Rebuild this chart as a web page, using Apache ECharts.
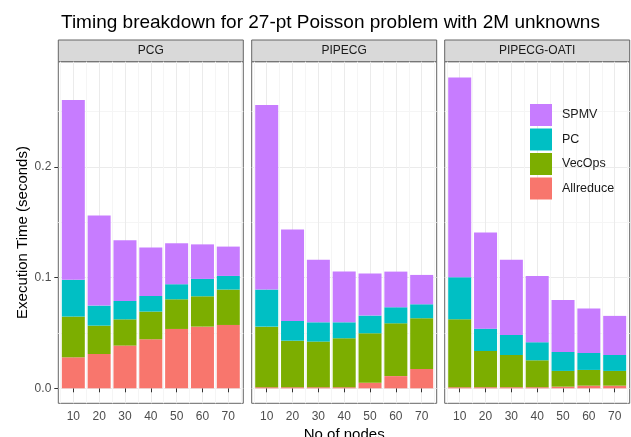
<!DOCTYPE html>
<html>
<head>
<meta charset="utf-8">
<script src="https://cdn.jsdelivr.net/npm/echarts@6/dist/echarts.min.js"></script>
<style>
  html, body { margin: 0; padding: 0; background: #fff; }
  #chart { width: 631px; height: 437px; }
</style>
</head>
<body>
<div id="chart"></div>
<script>
var FONT = '"Liberation Sans", Arial, sans-serif';

var panels = ['PCG', 'PIPECG', 'PIPECG-OATI'];
var nodes = ['10', '20', '30', '40', '50', '60', '70'];
var xMajor = [10, 20, 30, 40, 50, 60, 70];
var yTicks = [0, 0.1, 0.2];
var yMinor = [0.05, 0.15, 0.25];

// segment heights per panel (seconds)
var allreduce = [
  [0.028, 0.031, 0.0386, 0.0443, 0.0536, 0.0557, 0.0572],
  [0.001, 0.001, 0.001, 0.001, 0.005, 0.011, 0.0175],
  [0.001, 0.001, 0.001, 0.001, 0.0015, 0.0024, 0.0024]
];
var vecops = [
  [0.0368, 0.0256, 0.0237, 0.025, 0.0268, 0.0274, 0.032],
  [0.0547, 0.042, 0.0412, 0.0442, 0.0447, 0.0477, 0.0458],
  [0.0613, 0.0327, 0.0291, 0.0243, 0.0142, 0.0142, 0.0133]
];
var pc = [
  [0.0332, 0.0181, 0.0166, 0.0141, 0.0136, 0.0157, 0.0123],
  [0.0335, 0.0178, 0.0174, 0.0144, 0.016, 0.0145, 0.0126],
  [0.038, 0.0202, 0.0181, 0.0163, 0.0171, 0.0153, 0.0144]
];
var spmv = [
  [0.1625, 0.0813, 0.0548, 0.0437, 0.037, 0.0312, 0.0265],
  [0.1668, 0.0826, 0.0564, 0.0458, 0.0379, 0.0322, 0.0265],
  [0.1804, 0.0868, 0.0678, 0.0599, 0.047, 0.0401, 0.0353]
];

var chart = echarts.init(document.getElementById('chart'));

var panelLeft = [58.3, 251.7, 444.7];
var panelW = 185;
var innerInset = 2.1;
var innerW = 180.8;
var panelTop = 61.7;
var panelH = 341.6;
var stripTop = 40;
var yMin = -0.01355, yMax = 0.295;

var grids = [], xAxes = [], yAxes = [], series = [], graphics = [];

var layers = [
  { name: 'Allreduce', color: '#F8766D', vals: allreduce },
  { name: 'VecOps', color: '#7CAE00', vals: vecops },
  { name: 'PC', color: '#00BFC4', vals: pc },
  { name: 'SPMV', color: '#C77CFF', vals: spmv }
];

panels.forEach(function (p, i) {
  var outer = grids.length;
  // outer grid: full panel, border + horizontal grid lines + y labels
  grids.push({
    left: panelLeft[i], top: panelTop, width: panelW, height: panelH,
    outerBoundsMode: 'none',
    show: true, backgroundColor: '#fff', borderColor: '#666', borderWidth: 1
  });
  var inner = grids.length;
  // inner grid: where the bars are drawn
  grids.push({
    left: panelLeft[i] + innerInset, top: panelTop, width: innerW, height: panelH,
    outerBoundsMode: 'none'
  });

  xAxes.push({ type: 'value', gridIndex: outer, show: false });
  yAxes.push({
    type: 'value', gridIndex: outer, min: yMin, max: yMax,
    axisLine: { show: false },
    axisTick: { show: i === 0, length: 4, lineStyle: { color: '#333' }, customValues: yTicks },
    axisLabel: {
      show: i === 0, customValues: yTicks, color: '#4d4d4d', fontSize: 12, fontFamily: FONT, margin: 7,
      formatter: function (v) { return v.toFixed(1); }
    },
    splitLine: { show: true, lineStyle: { color: '#ebebeb', width: 1 } },
    name: i === 0 ? 'Execution Time (seconds)' : '',
    nameLocation: 'middle', nameGap: 28,
    nameTextStyle: { color: '#000', fontSize: 15, fontFamily: FONT }
  });
  yAxes.push({
    type: 'value', gridIndex: outer, min: yMin, max: yMax,
    axisLine: { show: false },
    axisTick: { show: false, customValues: yMinor },
    axisLabel: { show: false, customValues: yMinor },
    splitLine: { show: true, lineStyle: { color: '#f5f5f5', width: 1 } }
  });

  var catIdx = xAxes.length;
  xAxes.push({
    type: 'category', gridIndex: inner, data: nodes,
    axisLine: { show: false },
    axisTick: { show: true, alignWithLabel: true, length: 4, lineStyle: { color: '#333' } },
    axisLabel: { color: '#4d4d4d', fontSize: 12, fontFamily: FONT, margin: 7 },
    splitLine: { show: true, lineStyle: { color: '#f5f5f5', width: 1 } },
    name: i === 1 ? 'No of nodes' : '',
    nameLocation: 'middle', nameGap: 22,
    nameTextStyle: { color: '#000', fontSize: 15, fontFamily: FONT }
  });
  xAxes.push({
    type: 'value', gridIndex: inner, min: 5, max: 75,
    axisLine: { show: false },
    axisTick: { show: false, customValues: xMajor },
    axisLabel: { show: false, customValues: xMajor },
    splitLine: { show: true, lineStyle: { color: '#ebebeb', width: 1 } }
  });
  var valIdx = yAxes.length;
  yAxes.push({ type: 'value', gridIndex: inner, min: yMin, max: yMax, show: false });

  layers.forEach(function (l) {
    series.push({
      name: l.name, type: 'bar', stack: 'p' + i,
      xAxisIndex: catIdx, yAxisIndex: valIdx,
      barWidth: 23,
      itemStyle: { color: l.color },
      data: l.vals[i]
    });
  });

  // facet strip
  graphics.push({
    type: 'rect',
    shape: { x: panelLeft[i], y: stripTop, width: panelW, height: panelTop - stripTop },
    style: { fill: '#d9d9d9', stroke: '#666', lineWidth: 1 }
  });
  graphics.push({
    type: 'text',
    x: panelLeft[i] + panelW / 2, y: stripTop + (panelTop - stripTop) / 2,
    style: { text: p, fill: '#1a1a1a', font: '12px ' + FONT, textAlign: 'center', textVerticalAlign: 'middle' }
  });
});

chart.setOption({
  animation: false,
  title: {
    text: 'Timing breakdown for 27-pt Poisson problem with 2M unknowns',
    left: 56, top: 8,
    textStyle: { color: '#000', fontSize: 19, fontWeight: 'normal', fontFamily: FONT }
  },
  legend: {
    data: ['SPMV', 'PC', 'VecOps', 'Allreduce'],
    orient: 'vertical', left: 530, top: 104,
    icon: 'rect', itemWidth: 22, itemHeight: 22, itemGap: 2.5,
    textStyle: { color: '#1a1a1a', fontSize: 12.5, fontFamily: FONT, padding: [0, 0, 0, 5] },
    padding: 0
  },
  grid: grids,
  xAxis: xAxes,
  yAxis: yAxes,
  series: series,
  graphic: graphics
});
</script>
</body>
</html>
